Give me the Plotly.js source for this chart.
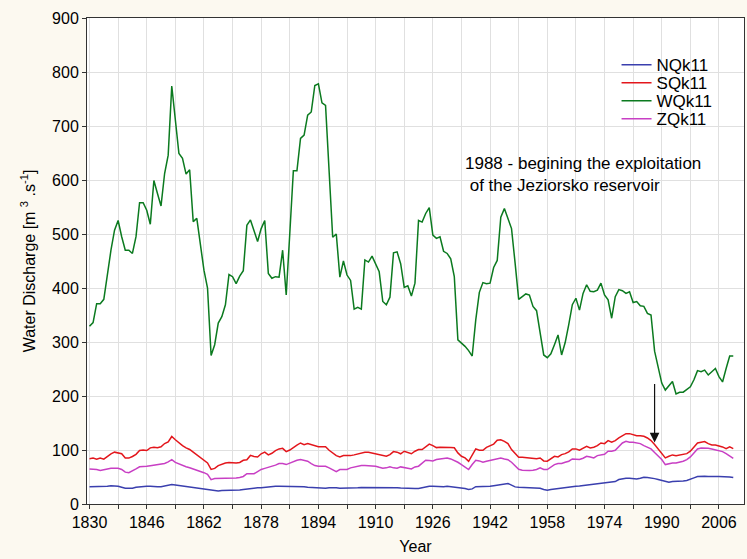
<!DOCTYPE html>
<html>
<head>
<meta charset="utf-8">
<script src="https://cdn.plot.ly/plotly-3.0.1.min.js"></script>
<style>html,body{margin:0;padding:0;background:#fcf9f0;}#chart{width:747px;height:559px;}</style>
</head>
<body>
<div id="chart"></div>
<script>
const firstYear = 1830;
const lastYear = 2010;
const years = [];
for (let y = firstYear; y <= lastYear; y++) years.push(y);

const xTickVals = [1830, 1846, 1862, 1878, 1894, 1910, 1926, 1942, 1958, 1974, 1990, 2006];
const yTickVals = [0, 100, 200, 300, 400, 500, 600, 700, 800, 900];

const NQk11 = [32,32,32,32,33,33,34,34,33,31,29,29,29,31,32,33,33,33,32,32,32,33,34,36,35,34,33,32,32,30,29,28,28,27,25,24,24,25,25,25,25,25,26,27,28,29,29,30,30,31,32,32,33,33,33,33,33,32,33,
32.5,32,31,30.5,30,29,29,29,30,30.5,30,29,29,29,29,29,30,30.5,30.5,30.5,30.5,30.5,30.5,30.5,31,31,30.5,30,29.5,29,29,28.6,28.6,28.6,30,32,33,33,32.5,32,32,32.7,32,31,30.5,30,28.5,27,28,32,32,32,32.5,33,34,35,
36,37,37.9,35,31.7,31,30.5,30,29.9,29.5,28.7,29.3,27,25.6,27,28,28.5,29.3,30,31,32,33,33.5,34.2,35,36,36.5,37.3,38,39.1,39.7,40.4,41.6,45.3,47,47.8,47.8,47,46.5,47.8,49.6,49,48.4,47,45.3,43.4,41,40.4,41.6,41.6,42.2,42.8,43.4,45.3,48.4,50.8,51.4,51.4,50.8,50.2,50.8,50.8,50.8,50.8,50.2,49];

const SQk11 = [84,85,83,85,83,88,93,96,95,93,85,85,88,92,99,100,99,104,105,104,106,112,115,125,119,113,108,104,101,96,91,87,82,76,64,66,71,74,76,77,76,76,77,81,82,90,88,87,93,96,91,94,99,102,103,97,100,105,109,
113,110,112,110,108,106,106,106,99.5,94.6,89.6,87,89.6,89.6,89.6,91,93,94.6,96,96,94.6,93,91,89.6,88.4,91.5,97,96,93,97.7,96,93,97.7,100.7,100.7,105.7,111,108,104.4,105,105,105.7,104.4,104,94.6,88.4,85.3,79,91.5,102,99.5,99.5,105,108,111,118,
119,116,112,100.7,92.7,86.6,86.6,86,84.7,84,84,85.3,79.8,79.2,84,88.4,87.2,91.5,93.3,96.4,102,102,99.5,103.8,106.9,103.8,105,108,113,111.8,117.4,114.3,117.4,122.3,126.6,130.3,130.3,127.8,126.6,126.6,125.4,122.3,117.4,110,102,93.3,85.3,88.4,90.9,89.6,90.9,92,93.3,97.7,105.7,113,114.3,115.5,111.8,109.4,109.4,108,105.7,102.6,105.7,102.6];

const WQk11 = [329,336,371,371,379,427,470,507,525,495,470,470,464,495,558,558,544,518,599,575,552,612,646,774,705,649,640,611,619,523,529,483,433,400,275,295,335,347,369,425,421,408,422,432,516,526,507,486,510,525,427,418,421,420,470,387,501,617,617,677,683,720,726,775,778,743,738,612,494,500,420,450,424,414,361,364,361,452,448,459,444,430,375,369,383,465,467,445,401,404,
385,409,525,522,538,549,498,492,495,468,464,454,421,304,298,292,284,274,341,392,410,408,409,438,451,531,547,529,510,446,379,384,389,387,366,358,316,276,271,278,295,313,276,299,332,369,381,359,390,406,394,393,396,409,387,378,344,384,397,395,390,393,373,375,367,366,353,350,283,252,224,211,218,227,204,207,207,212,217,230,247,245,248,239,245,251,236,226,251,274,274];

const ZQk11 = [65,65,64,62,64,65,66,66,66,64,59,58,61,65,69,69,70,71,72,72,73,75,78,82,77,74,71,69,67,65,63,60,58,55,45,47,47,48,48,48,48,48,49,51,56,56,56,60,64,66,68,69,72,75,75,73,76,79,81,
82.3,81,79.2,74.9,71.2,70,70,70,66.9,63.8,60.1,63.8,63.8,63.8,66.9,68.7,70,71.2,71.2,71.2,70,70,68,66.2,66.9,68.7,66.9,66.2,68.7,66.9,66.2,65,68.7,70,74.9,81,80.4,79.8,82.3,83.5,85.3,85.3,83.5,81,77.3,73,68.7,63.8,73,81,79.8,77.3,79.2,81,82.3,83.5,
85.3,83.5,82,77.3,71.2,64.4,62.5,61.9,61.9,62.5,63.8,66.9,63.8,63.8,68.7,73,74.9,74.9,77.3,79.2,83.5,83.5,82.3,84.7,88.4,87.2,85.3,89.6,91.5,92,97.7,97.7,99.5,105.7,113,116,114.3,114.3,113,111.8,108,105.7,102,95.2,88.4,82.3,73,74.9,76.1,76.1,77.3,79.2,82.3,87.2,94.6,102,103.8,103.8,103.2,102,100,98.9,97,93.3,89,84.7];

const seriesNames = ['NQk11', 'SQk11', 'WQk11', 'ZQk11'];
const seriesData = [NQk11, SQk11, WQk11, ZQk11];
const seriesColors = ['#3a3fae', '#e3161c', '#0b7a1f', '#c83fc4'];

const annotationYear = 1988;
const annotationText = '1988 - begining the exploitation<br> of the Jeziorsko reservoir';

const legendIds = ['legend', 'legend2', 'legend3', 'legend4'];
const legendRowY = [0.903, 0.866, 0.829, 0.792];

const traces = seriesNames.map((n, i) => ({
  type: 'scatter', mode: 'lines', name: n, x: years, y: seriesData[i],
  legend: legendIds[i],
  line: {color: seriesColors[i], width: 1.5}
}));

const font = {family: 'Arial, "Liberation Sans", sans-serif', color: '#000'};

const layout = {
  width: 747, height: 559,
  paper_bgcolor: '#fcf9f0', plot_bgcolor: '#ffffff',
  margin: {l: 87, r: 3, t: 18, b: 55},
  font: Object.assign({size: 16}, font),
  showlegend: true,
  xaxis: {
    range: [1829.3, 2013], tickmode: 'array', tickvals: xTickVals,
    ticks: 'outside', ticklen: 4, tickcolor: '#333',
    showline: true, mirror: true, linecolor: '#333', linewidth: 1,
    showgrid: true, gridcolor: '#e0e0e0', zeroline: false,
    minor: {tickmode: 'linear', tick0: 1830, dtick: 8, showgrid: true, gridcolor: '#e0e0e0', ticks: 'outside', ticklen: 4, tickcolor: '#333'},
    tickfont: Object.assign({size: 16}, font),
    title: {text: 'Year', font: Object.assign({size: 16}, font), standoff: 10}
  },
  yaxis: {
    range: [0, 900], tickmode: 'array', tickvals: yTickVals,
    ticks: 'outside', ticklen: 4, tickcolor: '#333',
    showline: true, mirror: true, linecolor: '#333', linewidth: 1,
    showgrid: true, gridcolor: '#e0e0e0', zeroline: false,
    tickfont: Object.assign({size: 16}, font),
    title: {text: 'Water Discharge [m <sup>3</sup> .s<sup>-1</sup>]', font: Object.assign({size: 16}, font), standoff: 12}
  },
  annotations: [
    {x: 1934.4, y: 611, xref: 'x', yref: 'y', text: annotationText, showarrow: false,
     xanchor: 'left', yanchor: 'middle', align: 'left', font: Object.assign({size: 17}, font)},
    {x: annotationYear, y: 114, ax: annotationYear, ay: 225, xref: 'x', yref: 'y', axref: 'x', ayref: 'y',
     text: '', showarrow: true, arrowhead: 2, arrowsize: 1.6, arrowwidth: 1.2, arrowcolor: '#111'}
  ]
};

legendIds.forEach((id, i) => {
  layout[id] = {x: 0.806, y: legendRowY[i], xanchor: 'left', yanchor: 'middle',
    bgcolor: 'rgba(0,0,0,0)', borderwidth: 0, itemwidth: 30,
    font: Object.assign({size: 17}, font)};
});

Plotly.newPlot('chart', traces, layout, {staticPlot: true, displayModeBar: false});
</script>
</body>
</html>
